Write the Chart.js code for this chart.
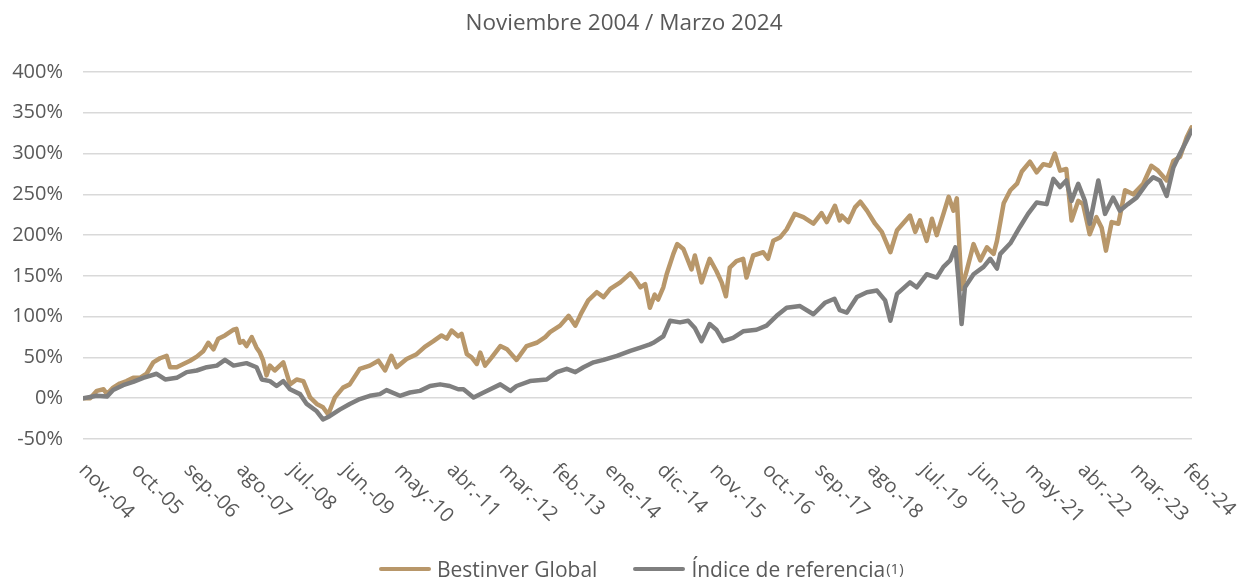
<!DOCTYPE html>
<html lang="es">
<head>
<meta charset="utf-8">
<title>Bestinver Global vs índice de referencia</title>
<script src="https://cdn.jsdelivr.net/npm/chart.js@4.4.1/dist/chart.umd.min.js"></script>
<style>
  html, body { margin: 0; padding: 0; background: #fff; }
  #wrap { position: relative; width: 1239px; height: 579px; }
  #legend {
    position: absolute; left: 379px; top: 555px;
    display: flex; align-items: center;
    font-family: "Open Sans", sans-serif; font-size: 21px; color: #595959;
    white-space: nowrap;
  }
  #legend .item { display: flex; align-items: center; margin-right: 36px; }
  #legend .swatch { display: inline-block; width: 52px; height: 4px; border-radius: 2px; margin-right: 6px; }
  #legend small { font-size: 15px; margin-left: 1px; position: relative; top: -1px; }
</style>
</head>
<body>
<div id="wrap">
  <canvas id="chart" width="1239" height="579"></canvas>
  <div id="legend"></div>
</div>
<script>
// x = months since nov.-04, y = cumulative return in %
const tickLabels = ['nov.-04', 'oct.-05', 'sep.-06', 'ago.-07', 'jul.-08', 'jun.-09', 'may.-10', 'abr.-11',
    'mar.-12', 'feb.-13', 'ene.-14', 'dic.-14', 'nov.-15', 'oct.-16', 'sep.-17', 'ago.-18', 'jul.-19',
    'jun.-20', 'may.-21', 'abr.-22', 'mar.-23', 'feb.-24'];

const bestMonths = [0, 1.5, 2.9, 4.3, 5.0, 6.3, 7.7, 9.1, 10.5, 11.9, 13.3, 14.7, 16.1, 17.5, 18.2, 19.6, 21.0, 22.4,
    23.8, 25.2, 26.2, 27.3, 28.3, 29.7, 31.5, 32.1, 32.8, 33.5, 34.2, 35.3, 36.3, 37.0, 37.7, 38.4, 39.1, 40.1,
    41.9, 43.3, 44.7, 46.1, 47.5, 48.9, 50.2, 51.3, 52.7, 54.4, 55.8, 57.9, 60.0, 61.8, 63.2, 64.5, 65.6, 67.7,
    69.8, 71.5, 73.3, 75.0, 76.1, 77.1, 78.5, 79.2, 80.3, 81.3, 82.4, 83.1, 84.1, 85.5, 87.3, 88.7, 90.7, 92.8,
    94.9, 96.7, 97.7, 99.8, 101.6, 103.0, 104.3, 105.7, 107.5, 108.9, 110.3, 112.4, 114.5, 115.5, 116.6, 117.6,
    118.6, 119.6, 120.3, 121.4, 122.1, 123.5, 124.3, 125.6, 127.3, 128.0, 129.4, 131.1, 132.5, 133.6, 134.5,
    135.3, 136.7, 138.1, 138.8, 140.2, 142.3, 143.3, 144.4, 145.8, 147.2, 148.9, 150.7, 152.8, 154.5, 155.6,
    157.3, 158.3, 158.7, 160.1, 161.5, 162.6, 164.0, 165.7, 167.1, 168.9, 170.3, 173.0, 174.1, 175.1, 176.5,
    177.6, 178.6, 180.0, 181.1, 182.1, 182.8, 183.8, 184.9, 186.3, 187.7, 189.1, 190.5, 191.2, 192.6, 194.0,
    195.4, 196.4, 198.1, 199.5, 200.9, 202.3, 203.3, 204.4, 205.7, 206.8, 208.2, 209.2, 210.6, 212.0, 213.1,
    214.0, 215.2, 216.6, 218.0, 219.7, 221.8, 223.5, 224.9, 226.7, 228.1, 229.5, 230.9, 231.9];
const bestValues = [0, 0, 9, 11, 5, 13, 18, 21, 25, 25, 30, 44, 49, 52, 38, 38, 42, 46,
    51, 58, 68, 60, 73, 77, 84, 85, 68, 70, 64, 75, 62, 56, 46, 28, 40, 34,
    44, 17, 23, 21, 1, -7, -11, -20, 1, 13, 17, 36, 40, 46, 34, 52, 38, 48,
    54, 63, 70, 77, 73, 83, 76, 79, 54, 50, 42, 56, 40, 50, 64, 60, 47, 64,
    68, 75, 81, 89, 101, 89, 105, 120, 130, 124, 134, 142, 153, 146, 136, 140,
    111, 127, 121, 136, 152, 177, 189, 183, 158, 175, 142, 171, 156, 142, 125,
    160, 168, 171, 148, 175, 179, 171, 193, 197, 207, 226, 222, 214, 227, 216,
    236, 218, 224, 216, 234, 241, 230, 214, 204, 179, 206, 224, 204, 218, 193,
    220, 200, 226, 247, 230, 245, 134, 157, 189, 169, 185, 177, 193, 239, 255,
    263, 278, 290, 277, 287, 285, 300, 279, 281, 218, 242, 238, 201, 222, 209,
    181, 216, 214, 255, 250, 263, 285, 279, 267, 291, 296, 320, 332];

const refMonths = [0, 2.9, 5.0, 6.3, 8.4, 10.5, 12.6, 15.4, 17.2, 19.6, 21.7, 23.8, 25.9, 28.0, 29.7, 31.5,
    34.2, 36.3, 37.4, 39.1, 40.5, 41.9, 43.3, 45.4, 46.8, 48.9, 50.2, 51.6, 53.7, 55.8, 57.9, 60.0, 62.1,
    63.5, 66.3, 68.4, 70.5, 72.6, 74.7, 76.7, 78.5, 79.6, 81.7, 83.8, 87.3, 89.4, 90.7, 93.5, 97.0, 99.1,
    101.2, 103.0, 104.7, 106.8, 108.9, 111.7, 114.5, 116.6, 118.6, 119.3, 121.4, 122.8, 124.9, 126.6, 128.0,
    129.4, 131.1, 132.5, 133.9, 136.0, 138.1, 140.9, 143.0, 145.1, 147.2, 150.0, 152.8, 155.2, 157.2, 158.3,
    159.8, 161.9, 164.0, 166.1, 167.8, 168.9, 170.3, 173.0, 174.4, 176.5, 178.6, 180.0, 181.4, 182.5, 183.1,
    183.8, 184.5, 186.3, 188.4, 189.8, 191.2, 191.9, 194.0, 196.0, 197.7, 199.5, 201.6, 203.0, 204.4, 205.7,
    206.8, 208.2, 209.6, 210.6, 212.4, 213.8, 215.5, 216.9, 218.6, 220.4, 222.5, 223.9, 225.3, 226.7, 228.1,
    229.5, 230.9, 231.9];
const refValues = [0, 3, 2, 10, 16, 20, 25, 30, 23, 25, 32, 34, 38, 40, 47, 40,
    43, 38, 23, 21, 15, 21, 11, 5, -7, -16, -26, -22, -14, -7, -1, 3, 5,
    10, 3, 7, 9, 15, 17, 15, 11, 11, 1, 7, 17, 9, 15, 21, 23, 32,
    36, 32, 38, 44, 47, 52, 58, 62, 66, 68, 76, 95, 93, 95, 86,
    70, 91, 84, 70, 74, 82, 84, 89, 101, 111, 113, 103, 117, 122, 108,
    105, 124, 130, 132, 120, 95, 128, 142, 136, 152, 148, 161, 169, 185, 148,
    91, 136, 152, 161, 171, 159, 177, 190, 210, 226, 240, 238, 269, 259, 267,
    242, 263, 242, 214, 267, 226, 246, 230, 238, 246, 263, 271, 267, 248, 283,
    300, 316, 328];

const seriesNames = ['Bestinver Global', 'Índice de referencia'];
const seriesColors = ['#B8976A', '#7F7F7F'];

const TEXT = '#595959';
const FONT = '"Open Sans", sans-serif';

const toPoints = (xs, ys) => xs.map((m, i) => ({ x: m, y: ys[i] }));

// Excel-style labels: rotated 45 deg clockwise, hanging from the tick
const slantedLabels = {
    id: 'slantedLabels',
    afterDraw(chart) {
        const { ctx, chartArea } = chart;
        const xs = chart.scales.x;
        ctx.save();
        ctx.font = `20px ${FONT}`;
        ctx.fillStyle = TEXT;
        ctx.textAlign = 'left';
        ctx.textBaseline = 'middle';
        tickLabels.forEach((label, i) => {
            const px = xs.getPixelForValue(i * 11);
            ctx.save();
            ctx.translate(px - 1, chartArea.bottom + 28);
            ctx.rotate(Math.PI / 4);
            ctx.fillText(label, 0, 0);
            ctx.restore();
        });
        ctx.restore();
    }
};

const line = (name, color, data, order) => ({
    label: name,
    data,
    borderColor: color,
    backgroundColor: color,
    borderWidth: 4.5,
    pointRadius: 0,
    tension: 0,
    borderJoinStyle: 'round',
    borderCapStyle: 'round',
    order
});

const chart = new Chart(document.getElementById('chart'), {
    type: 'line',
    data: {
        datasets: [
            line(seriesNames[0], seriesColors[0], toPoints(bestMonths, bestValues), 1),
            line(seriesNames[1], seriesColors[1], toPoints(refMonths, refValues), 0)
        ]
    },
    options: {
        responsive: false,
        animation: false,
        devicePixelRatio: 1,
        layout: { padding: { left: 9, right: 0, top: 0, bottom: 132 } },
        plugins: {
            legend: { display: false },
            tooltip: { enabled: false },
            title: {
                display: true,
                text: 'Noviembre 2004 / Marzo 2024',
                color: TEXT,
                font: { family: FONT, size: 22.5, weight: 'normal' },
                padding: { top: 10, bottom: 35 }
            }
        },
        scales: {
            x: {
                type: 'linear',
                min: 0,
                max: 232,
                grid: { display: false },
                border: { display: false },
                ticks: { display: false, stepSize: 11 }
            },
            y: {
                min: -50,
                max: 400,
                afterFit(scale) { scale.width = 74; },
                grid: { color: '#D9D9D9', lineWidth: 1.5, drawTicks: false },
                border: { display: false },
                ticks: {
                    stepSize: 50,
                    padding: 20,
                    color: TEXT,
                    font: { family: FONT, size: 20 },
                    callback: (v) => v + '%'
                }
            },
            // empty right gutter, keeps the plot off the right edge
            yRight: {
                position: 'right',
                min: -50,
                max: 400,
                afterFit(scale) { scale.width = 47; },
                grid: { display: false },
                border: { display: false },
                ticks: { display: false }
            }
        }
    },
    plugins: [slantedLabels]
});

// html legend so the "(1)" call can be set smaller
document.getElementById('legend').innerHTML = chart.data.datasets.map((ds, i) => `
    <span class="item"><span class="swatch" style="background:${ds.borderColor}"></span>${ds.label}${i === 1 ? '<small>(1)</small>' : ''}</span>
`).join('');
</script>
</body>
</html>
